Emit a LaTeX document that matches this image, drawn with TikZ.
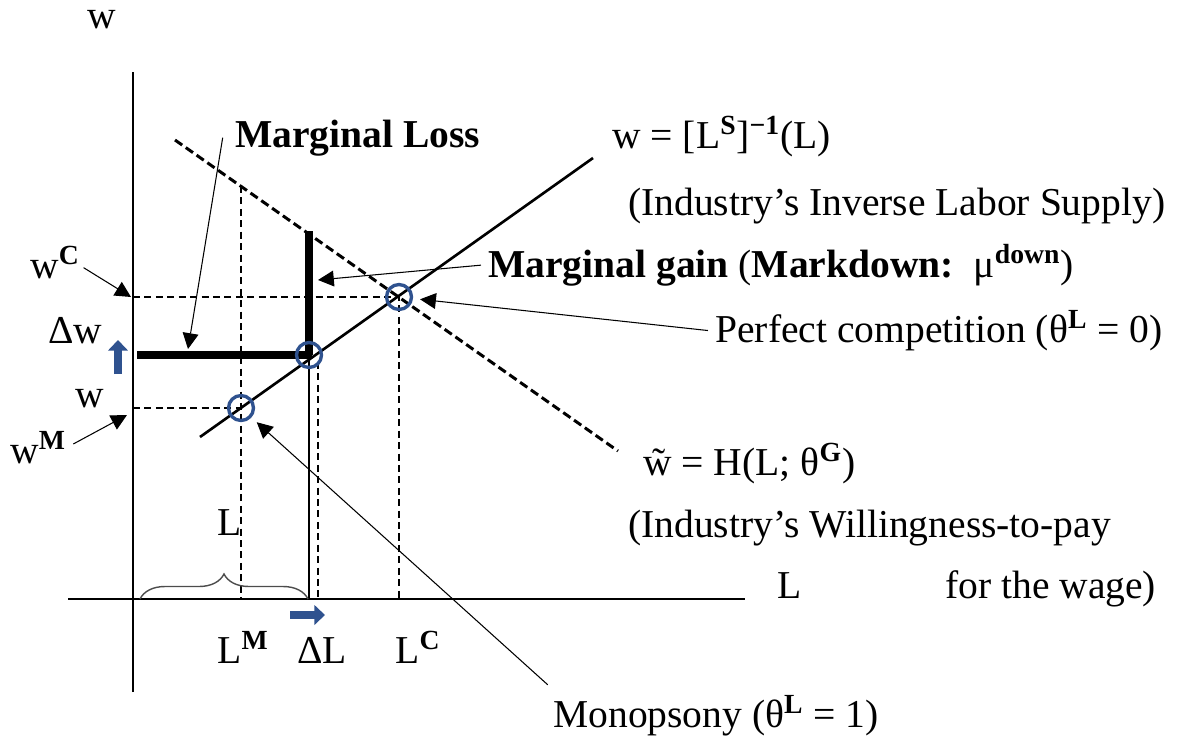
\documentclass[tikz,border=0pt]{standalone}
\usepackage{fontspec}
\setmainfont{Liberation Serif}
\usepackage{xcolor}
\usetikzlibrary{arrows.meta, positioning, calc, decorations.pathreplacing}

\definecolor{ringblue}{RGB}{47,82,143}
\newcommand{\sups}[1]{\textsuperscript{\textbf{#1}}}

\begin{document}
\begin{tikzpicture}[
  x=0.02cm, y=-0.02cm,
  lbl/.style={font=\fontsize{22.5}{27}\selectfont, inner sep=0pt},
  axisline/.style={line width=0.8pt},
  supply/.style={line width=1.5pt},
  wtp/.style={line width=1.7pt, dash pattern=on 5pt off 2.5pt},
  guide/.style={line width=0.6pt, dash pattern=on 4pt off 2.5pt},
  thickbar/.style={line width=4.8pt},
  ptr/.style={-{Triangle[length=9pt,width=9pt]}, line width=0.6pt},
  ring/.style={circle, draw=ringblue, line width=1.9pt, minimum size=0.5cm, inner sep=0pt},
  nudge/.style={-{Triangle[length=6pt,width=11pt]}, line width=4.2pt, draw=ringblue}
]
  \useasboundingbox (0,0) rectangle (1199,740);

  % axes
  \coordinate (O) at (133,599);
  \coordinate (ytop) at (133,72);
  \coordinate (ybot) at (133,692);
  \coordinate (xlft) at (68,599);
  \coordinate (xrgt) at (745,599);
  \draw[axisline] (ybot) -- (ytop);
  \draw[axisline] (xlft) -- (xrgt);

  % the two curves
  \coordinate (s0) at (200,437);
  \coordinate (s1) at (593,158);
  \coordinate (d0) at (175,140);
  \coordinate (d1) at (618,451);
  \draw[supply] (s0) -- (s1);
  \draw[wtp] (d0) -- (d1);

  % equilibrium points
  \coordinate (eM) at (241,408);
  \coordinate (eX) at (309,355);
  \coordinate (eC) at (399,297);
  \coordinate (dM) at (241,186);

  % guides
  \draw[guide] (O |- eC) -- (eC) -- (eC |- O);
  \draw[guide] (O |- eM) -- (eM);
  \draw[guide] (dM) -- (dM |- O);
  \draw[line width=0.7pt] (eX) -- (eX |- O);
  \draw[guide] (318,362) -- (318,599);

  % marginal loss / gain bars
  \draw[thickbar] (137,355) -- (311.5,355);
  \draw[thickbar] (309,355) -- (309,231);

  % brace over employment
  \draw[decorate, decoration={brace, amplitude=0.5cm}, gray!60!black, line width=0.8pt]
    (140,599) -- (308,599);

  % shifts
  \draw[nudge] (118,374) -- (118,340);
  \draw[nudge] (290,615) -- (325,615);

  % rings
  \node[ring] (pM) at (eM) {};
  \node[ring] (pX) at (eX) {};
  \node[ring] (pC) at (eC) {};

  % axis labels
  \node[lbl, anchor=base west] (wax) at (87,29) {w};
  \node[lbl, anchor=base west] (Lax) at (777,598) {L};
  \node[lbl, anchor=base west] (wC) at (30,278) {w\sups{C}};
  \node[lbl, anchor=base west] (dw) at (48,343) {Δw};
  \node[lbl, anchor=base west] (wlo) at (75,407) {w};
  \node[lbl, anchor=base west] (wM) at (10,463) {w\sups{M}};
  \node[lbl, anchor=base west] (Lbr) at (217,535) {L};
  \node[lbl, anchor=base west] (LM) at (217,663) {L\sups{M}};
  \node[lbl, anchor=base west] (dL) at (297,663) {ΔL};
  \node[lbl, anchor=base west] (LC) at (395,663) {L\sups{C}};

  % curve and point labels
  \node[lbl, anchor=base west] (loss) at (235,147) {\textbf{Marginal Loss}};
  \node[lbl, anchor=base west] (sup1) at (612,148) {w = [L\sups{S}]\sups{−1}(L)};
  \node[lbl, anchor=base west] (sup2) at (628,215) {(Industry’s Inverse Labor Supply)};
  \node[lbl, anchor=base west] (gain) at (488,277) {\textbf{Marginal gain} (\textbf{Markdown:}\ \ μ\sups{down})};
  \node[lbl, anchor=base west] (pc) at (715,342) {Perfect competition (θ\sups{L} = 0)};
  \node[lbl, anchor=base west] (wtp1) at (643,475) {\~{w} = H(L; θ\sups{G})};
  \node[lbl, anchor=base west] (wtp2) at (628,537) {(Industry’s Willingness-to-pay};
  \node[lbl, anchor=base west] (wtp3) at (945,598) {for the wage)};
  \node[lbl, anchor=base west] (mono) at (553,727) {Monopsony (θ\sups{L} = 1)};

  % pointers
  \coordinate (wCtick) at (131,297);
  \coordinate (wMtick) at (127,415);
  \coordinate (mltip) at (188,349);
  \coordinate (mgtip) at (318,280);
  \draw[ptr] ([shift={(2pt,-3pt)}]wC.east) -- (wCtick);
  \draw[ptr] ([shift={(4pt,2pt)}]wM.east) -- (wMtick);
  \draw[ptr] ([xshift=-7pt]loss.west) -- (mltip);
  \draw[ptr] ([xshift=-4pt]gain.west) -- (mgtip);
  \draw[ptr, shorten >=4pt] ([xshift=-4pt]pc.west) -- (pC);
  \draw[ptr, shorten >=4pt] ([shift={(-3pt,6pt)}]mono.north west) -- (pM);
\end{tikzpicture}
\end{document}
